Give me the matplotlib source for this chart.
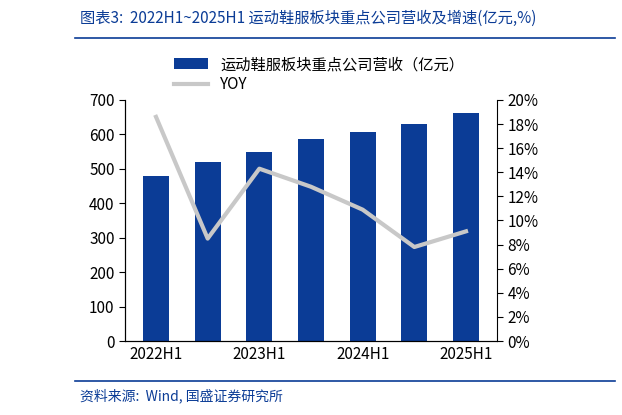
import matplotlib
matplotlib.use("Agg")
import matplotlib.pyplot as plt
from matplotlib.ticker import FuncFormatter

plt.rcParams['font.family'] = ['Noto Sans CJK SC', 'DejaVu Sans']

categories = ['2022H1', '2022H2', '2023H1', '2023H2', '2024H1', '2024H2', '2025H1']
revenue = [480, 520, 550, 587, 607, 630, 662]
yoy = [18.6, 8.5, 14.3, 12.8, 10.9, 7.8, 9.1]
tick_labels = ['2022H1', '', '2023H1', '', '2024H1', '', '2025H1']

W, H = 622, 415
fig = plt.figure(figsize=(W/100, H/100), dpi=100)
ax = fig.add_axes([125/W, 1-341/H, (497-125)/W, (341-100)/H])
x = range(len(categories))
b = ax.bar(x, revenue, width=0.5, color='#0b3c96', label='运动鞋服板块重点公司营收（亿元）')
ax.set_ylim(0, 700)
ax.set_yticks(range(0, 701, 100))
ax.set_xlim(-0.6, 6.6)
ax.set_xticks(list(x))
ax.set_xticklabels(tick_labels)
ax2 = ax.twinx()
l, = ax2.plot(list(x), yoy, color='#c8c8c8', lw=3, label='YOY')
ax2.set_ylim(0, 20)
ax2.set_yticks(range(0, 21, 2))
ax2.yaxis.set_major_formatter(FuncFormatter(lambda v, p: f'{int(v)}%'))
for a in (ax, ax2):
    a.spines['top'].set_visible(False)
    a.tick_params(labelsize=11, length=4, direction='out')
ax.tick_params(axis='x', length=0)
ax.spines['right'].set_visible(False)
fig.legend(handles=[b, l], loc='upper left', bbox_to_anchor=(168/W, 1-50/H), frameon=False,
           fontsize=11, handlelength=2.2, labelspacing=0.2, borderaxespad=0)

fig.text(80/W, 1-18/H, '图表3:  2022H1~2025H1 运动鞋服板块重点公司营收及增速(亿元,%)', color='#0b3c96',
         fontsize=11, style='italic', va='center')
fig.add_artist(plt.Line2D([75/W, 615/W], [1-38/H]*2, color='#0b3c96', lw=1.2))
fig.add_artist(plt.Line2D([75/W, 615/W], [1-381/H]*2, color='#0b3c96', lw=1.2))
fig.text(80/W, 1-396/H, '资料来源:  Wind, 国盛证券研究所', color='#0b3c96', fontsize=10, style='italic', va='center')
fig.savefig('out.png', dpi=100)
